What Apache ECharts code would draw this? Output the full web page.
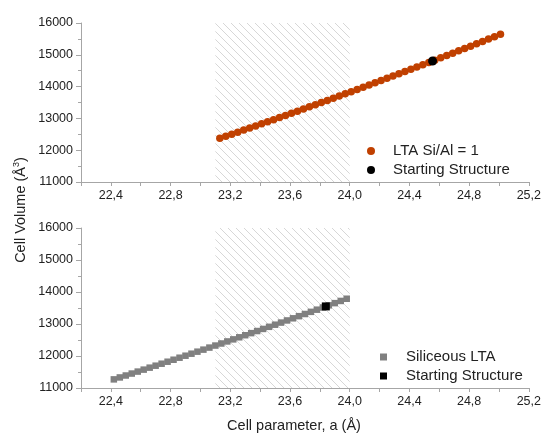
<!DOCTYPE html>
<html>
<head>
<meta charset="utf-8">
<script src="https://cdn.jsdelivr.net/npm/echarts@6/dist/echarts.min.js"></script>
<style>html,body{margin:0;padding:0;background:#fff}#c{width:544px;height:434px}</style>
</head>
<body>
<div id="c"></div>
<script>
// ---- data ----
const ltaA = [23.13,23.17,23.21,23.25,23.29,23.33,23.37,23.41,23.45,23.49,23.53,23.57,23.61,23.65,23.69,23.73,23.77,23.81,23.85,23.89,23.93,23.97,24.01,24.05,24.09,24.13,24.17,24.21,24.25,24.29,24.33,24.37,24.41,24.45,24.49,24.53,24.57,24.61,24.65,24.69,24.73,24.77,24.81,24.85,24.89,24.93,24.97,25.01];
const ltaV = [12374.5,12438.8,12503.3,12568.1,12633.1,12698.3,12763.7,12829.3,12895.2,12961.3,13027.6,13094.2,13161.0,13228.0,13295.2,13362.7,13430.4,13498.3,13566.4,13634.8,13703.4,13772.2,13841.3,13910.6,13980.1,14049.9,14119.8,14190.1,14260.5,14331.2,14402.1,14473.3,14544.7,14616.3,14688.1,14760.2,14832.5,14905.1,14977.9,15050.9,15124.2,15197.7,15271.4,15345.4,15419.7,15494.1,15568.8,15643.8];
const ltaStart = [24.555, 14805.4];
const silA = [22.42,22.46,22.50,22.54,22.58,22.62,22.66,22.70,22.74,22.78,22.82,22.86,22.90,22.94,22.98,23.02,23.06,23.10,23.14,23.18,23.22,23.26,23.30,23.34,23.38,23.42,23.46,23.50,23.54,23.58,23.62,23.66,23.70,23.74,23.78,23.82,23.86,23.90,23.94,23.98];
const silV = [11269.6,11330.0,11390.6,11451.5,11512.6,11573.9,11635.4,11697.1,11759.0,11821.2,11883.6,11946.2,12009.0,12072.0,12135.3,12198.8,12262.5,12326.4,12390.5,12454.9,12519.5,12584.3,12649.3,12714.6,12780.1,12845.8,12911.7,12977.9,13044.3,13110.9,13177.7,13244.8,13312.1,13379.6,13447.3,13515.3,13583.5,13651.9,13720.6,13789.5];
const silStart = [23.84, 13549.4];
const shadeRange = [23.1, 24.0];
const xMajor = [22.4,22.8,23.2,23.6,24.0,24.4,24.8,25.2];
const xRange = [22.2, 25.2];
const yRange = [11000, 16000];

// ---- hatch pattern ----
const P = 8;
const pc = document.createElement('canvas');
pc.width = P; pc.height = P;
const g = pc.getContext('2d');
g.strokeStyle = '#d2d2d2';
g.lineWidth = 0.9;
g.beginPath();
g.moveTo(-1,-1); g.lineTo(P+1,P+1);
g.moveTo(-1,P-1); g.lineTo(1,P+1);
g.moveTo(P-1,-1); g.lineTo(P+1,1);
g.stroke();
const hatch = {image: pc, repeat: 'repeat'};

const AX = '#a6a6a6';
const LBL = '#222';
const FONT = '"Liberation Sans", Arial, sans-serif';
const fmt = v => v.toFixed(1).replace('.', ',');
const GH = [159, 160];

function xAxis(gi) {
  return {gridIndex: gi, type: 'value', position: 'bottom', min: xRange[0], max: xRange[1], interval: 0.2,
     axisLine: {show: true, lineStyle: {color: AX, width: 1}},
     axisTick: {show: true, length: 4, lineStyle: {color: AX, width: 1}},
     axisLabel: {customValues: xMajor, formatter: fmt, color: LBL, fontSize: 12.5, fontFamily: FONT, margin: 7},
     splitLine: {show: false}};
}
function yAxis(gi) {
  return {gridIndex: gi, type: 'value', min: yRange[0], max: yRange[1], interval: 1000,
    axisLine: {show: true, lineStyle: {color: AX, width: 1}},
    axisTick: {show: true, length: 5, lineStyle: {color: AX}},
    minorTick: {show: true, splitNumber: 2, length: 3, lineStyle: {color: AX}},
    axisLabel: {color: LBL, fontSize: 12.5, fontFamily: FONT, margin: 8, formatter: v => String(v)},
    splitLine: {show: false}};
}

const chart = echarts.init(document.getElementById('c'), null, {renderer: 'canvas'});
chart.setOption({
  animation: false,
  backgroundColor: '#fff',
  grid: [
    {left: 81, right: 13, top: 23, height: GH[0]},
    {left: 81, right: 13, top: 228, height: GH[1]}
  ],
  xAxis: [xAxis(0), xAxis(1)],
  yAxis: [yAxis(0), yAxis(1)],
  legend: [
    {orient: 'vertical', left: 362, top: 138, itemWidth: 34, itemHeight: 8, itemGap: 3,
     textStyle: {fontSize: 15, fontFamily: FONT, color: LBL, lineHeight: 16},
     data: [{name: 'LTA Si/Al = 1', icon: 'circle'}, {name: 'Starting Structure', icon: 'circle'}]},
    {orient: 'vertical', left: 375, top: 344, itemWidth: 7, itemHeight: 7, itemGap: 3,
     textStyle: {fontSize: 15, fontFamily: FONT, color: LBL, lineHeight: 16, padding: [0, 0, 0, 14]},
     data: [{name: 'Siliceous LTA', icon: 'rect'}, {name: 'Starting Structure', icon: 'rect'}]}
  ],
  series: [
    {name: 'shade1', type: 'scatter', xAxisIndex: 0, yAxisIndex: 0, data: [], silent: true,
     markArea: {silent: true, itemStyle: {color: hatch}, data: [[{xAxis: shadeRange[0], yAxis: yRange[0]}, {xAxis: shadeRange[1], yAxis: yRange[1]}]]}},
    {name: 'shade2', type: 'scatter', xAxisIndex: 1, yAxisIndex: 1, data: [], silent: true,
     markArea: {silent: true, itemStyle: {color: hatch}, data: [[{xAxis: shadeRange[0], yAxis: yRange[0]}, {xAxis: shadeRange[1], yAxis: yRange[1]}]]}},
    {name: 'LTA Si/Al = 1', type: 'scatter', xAxisIndex: 0, yAxisIndex: 0, symbol: 'circle', symbolSize: 7.5,
     itemStyle: {color: '#c04000', opacity: 1}, data: ltaA.map((a, i) => [a, ltaV[i]])},
    {name: 'Starting Structure', type: 'scatter', xAxisIndex: 0, yAxisIndex: 0, symbol: 'circle', symbolSize: 9,
     itemStyle: {color: '#000', opacity: 1}, data: [ltaStart], z: 5},
    {name: 'Siliceous LTA', type: 'scatter', xAxisIndex: 1, yAxisIndex: 1, symbol: 'rect', symbolSize: 6.5,
     itemStyle: {color: '#808080', opacity: 1}, data: silA.map((a, i) => [a, silV[i]])},
    {name: 'Starting Structure', type: 'scatter', xAxisIndex: 1, yAxisIndex: 1, symbol: 'rect', symbolSize: 8,
     itemStyle: {color: '#000', opacity: 1}, data: [silStart], z: 5}
  ],
  graphic: [
    {type: 'text', x: 21, y: 210, rotation: Math.PI / 2,
     style: {text: 'Cell Volume (Å{sup|3})', fontSize: 14.5, fontFamily: FONT, fill: LBL,
       align: 'center', verticalAlign: 'middle',
       rich: {sup: {fontSize: 9, fontFamily: FONT, fill: LBL, verticalAlign: 'top', padding: [0, 0, 8, 0]}}}},
    {type: 'text', x: 294, y: 426,
     style: {text: 'Cell parameter, a (Å)', fontSize: 14.5, fontFamily: FONT, fill: LBL,
       align: 'center', verticalAlign: 'middle'}}
  ]
});
</script>
</body>
</html>
